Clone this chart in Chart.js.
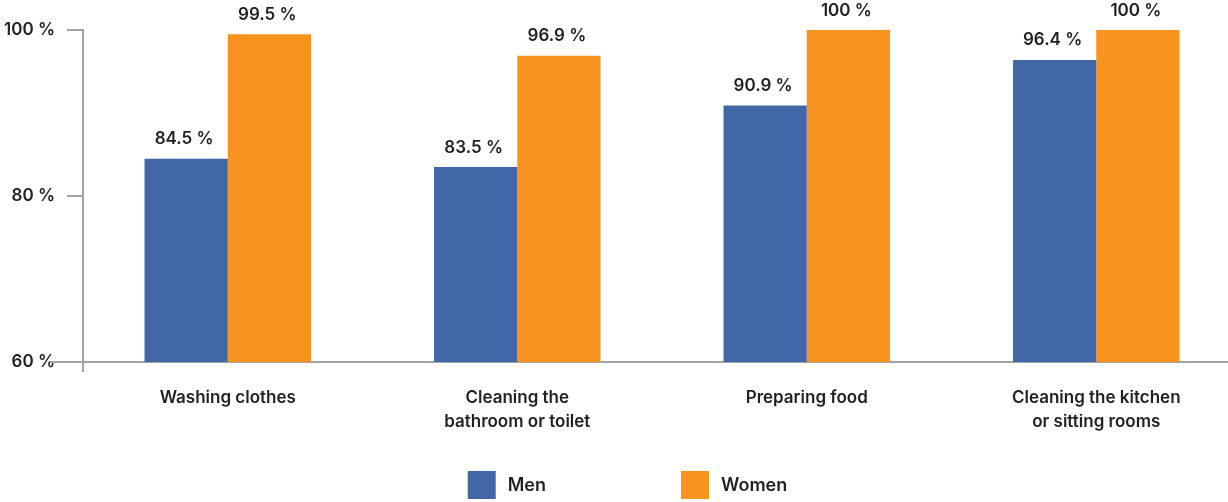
<!DOCTYPE html>
<html>
<head>
<meta charset="utf-8">
<script src="https://cdn.jsdelivr.net/npm/chart.js@4/dist/chart.umd.min.js"></script>
<style>
  html, body { margin: 0; padding: 0; background: #fff; overflow: hidden; }
  /* plot runs slightly past the right edge of the page */
  #wrap { width: 1241px; height: 502px; }
</style>
</head>
<body>
<div id="wrap"><canvas id="chart"></canvas></div>
<script>
// Share of people doing each household task
const categories = [
    ['Washing clothes'],
    ['Cleaning the', 'bathroom or toilet'],
    ['Preparing food'],
    ['Cleaning the kitchen', 'or sitting rooms']
];
const menValues = [84.5, 83.5, 90.9, 96.4];
const womenValues = [99.5, 96.9, 100, 100];
const yTicks = [60, 80, 100];

const BLUE = '#4267a6';
const ORANGE = '#f7931e';
const AXIS = '#a3a3a3';
const TEXT = '#231f20';
const FONT = 'Inter, "Open Sans", sans-serif';

// value labels above each bar
const barLabels = {
    id: 'barLabels',
    afterDatasetsDraw(chart) {
        const ctx = chart.ctx;
        ctx.save();
        ctx.font = '600 17px ' + FONT;
        ctx.fillStyle = TEXT;
        ctx.textAlign = 'center';
        ctx.textBaseline = 'bottom';
        chart.data.datasets.forEach((ds, i) => {
            chart.getDatasetMeta(i).data.forEach((bar, j) => {
                ctx.fillText(ds.data[j] + ' %', bar.x - 2, bar.y - 11);
            });
        });
        ctx.restore();
    }
};

// axis lines run a little past the corner
const axisCorner = {
    id: 'axisCorner',
    afterDraw(chart) {
        const ctx = chart.ctx;
        const a = chart.chartArea;
        ctx.save();
        ctx.strokeStyle = AXIS;
        ctx.lineWidth = 2;
        ctx.beginPath();
        ctx.moveTo(a.left - 33, a.bottom);
        ctx.lineTo(a.left, a.bottom);
        ctx.moveTo(a.left, a.bottom);
        ctx.lineTo(a.left, a.bottom + 10);
        ctx.stroke();
        ctx.restore();
    }
};

// legend at the bottom with wide spacing between entries
const bottomLegend = {
    id: 'bottomLegend',
    afterDraw(chart) {
        const ctx = chart.ctx;
        const box = 28, gapText = 12, gapItem = 135;
        ctx.save();
        ctx.font = '600 18px ' + FONT;
        const items = chart.data.datasets.map(ds => ({
            label: ds.label,
            color: ds.backgroundColor,
            w: box + gapText + ctx.measureText(ds.label).width
        }));
        const total = items.reduce((s, it) => s + it.w, 0) + gapItem * (items.length - 1);
        let x = chart.width / 2 + 7 - total / 2;
        const y = 471;
        ctx.textBaseline = 'middle';
        ctx.textAlign = 'left';
        items.forEach(it => {
            ctx.fillStyle = it.color;
            ctx.fillRect(x, y, box, box);
            ctx.fillStyle = TEXT;
            ctx.fillText(it.label, x + box + gapText, y + box / 2 + 1);
            x += it.w + gapItem;
        });
        ctx.restore();
    }
};

new Chart(document.getElementById('chart').getContext('2d'), {
    type: 'bar',
    data: {
        labels: categories,
        datasets: [
            {
                label: 'Men',
                data: menValues,
                backgroundColor: BLUE,
                barPercentage: 1.0,
                categoryPercentage: 0.575
            },
            {
                label: 'Women',
                data: womenValues,
                backgroundColor: ORANGE,
                barPercentage: 1.0,
                categoryPercentage: 0.575
            }
        ]
    },
    options: {
        responsive: true,
        maintainAspectRatio: false,
        animation: false,
        layout: {
            padding: { top: 30, right: 0, bottom: 0, left: 0 }
        },
        plugins: {
            legend: { display: false },
            tooltip: { enabled: false }
        },
        scales: {
            x: {
                grid: { display: false },
                border: { display: true, color: AXIS, width: 2 },
                ticks: {
                    color: TEXT,
                    font: { family: FONT, size: 17, weight: '600', lineHeight: 1.4 },
                    padding: 16,
                    maxRotation: 0,
                    autoSkip: false
                },
                afterFit(scale) { scale.height = 140; }
            },
            y: {
                min: 60,
                max: 100,
                afterBuildTicks(scale) {
                    scale.ticks = yTicks.map(v => ({ value: v }));
                },
                grid: {
                    drawOnChartArea: false,
                    drawTicks: true,
                    tickLength: 16,
                    color: AXIS,
                    lineWidth: 2
                },
                border: { display: true, color: AXIS, width: 2 },
                ticks: {
                    color: TEXT,
                    font: { family: FONT, size: 17, weight: '600' },
                    padding: 12,
                    callback: v => v + ' %'
                },
                afterFit(scale) { scale.width = 83; }
            }
        }
    },
    plugins: [barLabels, axisCorner, bottomLegend]
});
</script>
</body>
</html>
